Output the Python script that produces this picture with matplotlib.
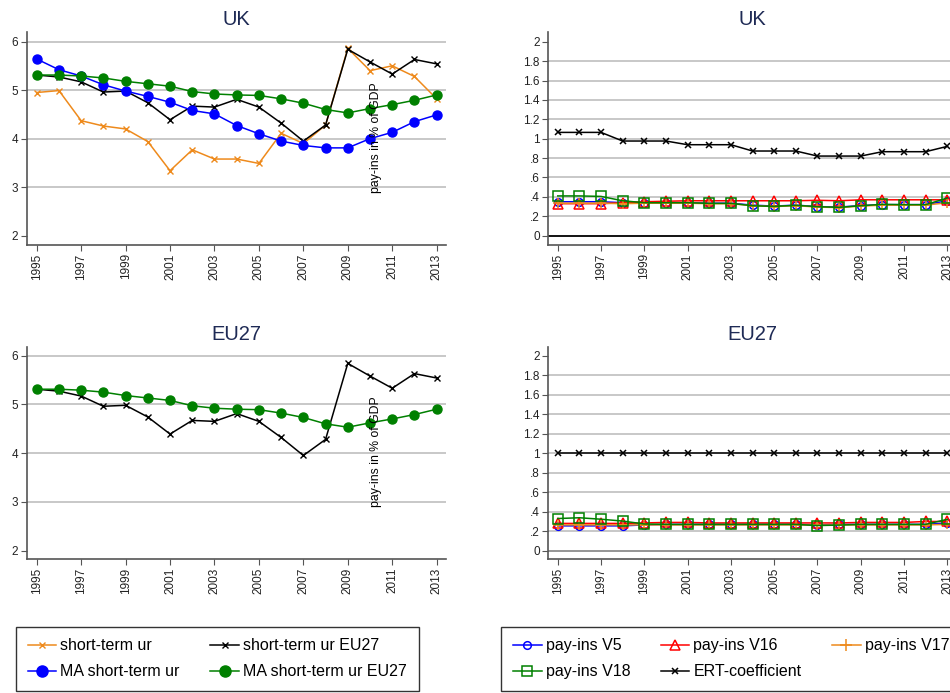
import matplotlib.pyplot as plt
from matplotlib.lines import Line2D

plt.switch_backend('Agg')
plt.rcParams['font.family'] = ['Liberation Sans', 'DejaVu Sans']

# dados
anos = list(range(1995, 2014))

ur_uk = [4.95, 4.99, 4.37, 4.26, 4.20, 3.94, 3.34, 3.77, 3.58, 3.58,
         3.49, 4.11, 3.90, 4.28, 5.86, 5.40, 5.50, 5.28, 4.82]
ur_eu27 = [5.31, 5.27, 5.17, 4.96, 4.98, 4.74, 4.39, 4.67, 4.65, 4.81,
           4.65, 4.32, 3.95, 4.28, 5.84, 5.58, 5.33, 5.63, 5.54]
ma_uk = [5.64, 5.42, 5.29, 5.11, 4.98, 4.87, 4.75, 4.58, 4.51, 4.27,
         4.10, 3.95, 3.86, 3.81, 3.81, 4.00, 4.13, 4.35, 4.49]
ma_eu27 = [5.31, 5.31, 5.29, 5.25, 5.18, 5.13, 5.08, 4.97, 4.92, 4.90,
           4.89, 4.82, 4.73, 4.60, 4.53, 4.62, 4.70, 4.79, 4.90]

v5_uk = [0.35, 0.35, 0.35, 0.34, 0.34, 0.34, 0.34, 0.335, 0.335, 0.315,
         0.305, 0.315, 0.30, 0.295, 0.31, 0.32, 0.32, 0.32, 0.36]
v16_uk = [0.33, 0.33, 0.33, 0.34, 0.35, 0.355, 0.36, 0.36, 0.36, 0.36,
          0.36, 0.36, 0.365, 0.36, 0.37, 0.37, 0.37, 0.37, 0.37]
v17_uk = [0.335, 0.335, 0.335, 0.33, 0.335, 0.335, 0.335, 0.33, 0.33, 0.31,
          0.30, 0.31, 0.295, 0.29, 0.305, 0.315, 0.315, 0.315, 0.34]
v18_uk = [0.41, 0.41, 0.405, 0.36, 0.34, 0.34, 0.34, 0.333, 0.333, 0.309,
          0.302, 0.313, 0.299, 0.292, 0.309, 0.323, 0.32, 0.32, 0.388]
ert_uk = [1.065, 1.065, 1.065, 0.976, 0.976, 0.976, 0.938, 0.938, 0.938, 0.873,
          0.873, 0.873, 0.821, 0.821, 0.821, 0.866, 0.866, 0.866, 0.921]

v5_eu = [0.255, 0.255, 0.255, 0.255, 0.265, 0.27, 0.27, 0.27, 0.27, 0.27,
         0.27, 0.27, 0.265, 0.27, 0.27, 0.27, 0.27, 0.27, 0.285]
v16_eu = [0.28, 0.28, 0.28, 0.28, 0.285, 0.29, 0.29, 0.285, 0.285, 0.285,
          0.285, 0.285, 0.285, 0.285, 0.29, 0.29, 0.29, 0.30, 0.30]
v17_eu = [0.265, 0.265, 0.265, 0.265, 0.265, 0.265, 0.265, 0.265, 0.265, 0.265,
          0.265, 0.265, 0.262, 0.265, 0.265, 0.265, 0.265, 0.265, 0.27]
v18_eu = [0.33, 0.338, 0.323, 0.304, 0.274, 0.27, 0.27, 0.27, 0.27, 0.27,
          0.27, 0.27, 0.258, 0.263, 0.27, 0.27, 0.27, 0.27, 0.322]
ert_eu = [1.0] * 19

# cores
LARANJA = '#ee8a1c'
AZUL = '#0000ff'
VERDE = '#008000'
VERMELHO = '#ff0000'
CINZA_GRADE = '#c4c4c4'
CINZA_EIXO = '#555555'
TITULO = '#1e2a55'

W, H = 950, 693
fig = plt.figure(figsize=(W / 100, H / 100), dpi=100)


def px_axes(left, top, right, bottom):
    return fig.add_axes([left / W, 1 - bottom / H, (right - left) / W, (bottom - top) / H])


def estilo(ax, titulo, ylim, yticks, ylabels, grades):
    ax.set_xlim(1994.55, 2013.42)
    ax.set_ylim(*ylim)
    for s in ['top', 'right']:
        ax.spines[s].set_visible(False)
    for s in ['left', 'bottom']:
        ax.spines[s].set_color(CINZA_EIXO)
        ax.spines[s].set_linewidth(1.2)
    for g in grades:
        ax.axhline(g, color=CINZA_GRADE, lw=1.3, zorder=0)
    ax.set_yticks(yticks)
    ax.set_yticklabels(ylabels)
    ax.set_xticks(anos[::2])
    ax.set_xticklabels([str(a) for a in anos[::2]], rotation=90)
    ax.tick_params(direction='out', length=4, color=CINZA_EIXO, labelsize=8.5,
                   labelcolor='#222222', pad=2)
    ax.set_title(titulo, fontsize=14.5, color=TITULO, pad=5)


# painel UK (desemprego)
ax1 = px_axes(26.7, 32.3, 446, 245)
estilo(ax1, 'UK', (1.81, 6.19), [2, 3, 4, 5, 6], ['2', '3', '4', '5', '6'], [3, 4, 5, 6])
ax1.plot(anos, ur_uk, color=LARANJA, lw=1.1, marker='x', ms=4, mew=1)
ax1.plot(anos, ur_eu27, color='black', lw=1.1, marker='x', ms=4, mew=1)
ax1.plot(anos, ma_uk, color=AZUL, lw=1.1, marker='o', ms=6.5)
ax1.plot(anos, ma_eu27, color=VERDE, lw=1.1, marker='o', ms=6.5)

# painel EU27 (desemprego)
ax3 = px_axes(26.7, 347.3, 446, 559.3)
estilo(ax3, 'EU27', (1.82, 6.17), [2, 3, 4, 5, 6], ['2', '3', '4', '5', '6'], [3, 4, 5, 6])
ax3.plot(anos, ur_eu27, color='black', lw=1.1, marker='x', ms=4, mew=1)
ax3.plot(anos, ma_eu27, color=VERDE, lw=1.1, marker='o', ms=6.5)

yt = [0, 0.2, 0.4, 0.6, 0.8, 1.0, 1.2, 1.4, 1.6, 1.8, 2.0]
yl = ['0', '.2', '.4', '.6', '.8', '1', '1.2', '1.4', '1.6', '1.8', '2']
grade_dir = [0.2, 0.4, 0.6, 0.8, 1.0, 1.2, 1.4, 1.6, 1.8]


def payins(ax, v5, v16, v17, v18, ert):
    ax.plot(anos, v5, color=AZUL, lw=1.1, marker='o', ms=5.5, mfc='none', mew=1.1)
    ax.plot(anos, v16, color=VERMELHO, lw=1.1, marker='^', ms=6.5, mfc='none', mew=1.1)
    ax.plot(anos, v17, color=LARANJA, lw=1.1, marker='+', ms=7, mew=1.1)
    ax.plot(anos, v18, color=VERDE, lw=1.1, marker='s', ms=6.5, mfc='none', mew=1.1)
    ax.plot(anos, ert, color='black', lw=1.1, marker='x', ms=5, mew=1.1)


ax2 = px_axes(548, 32.3, 956.4, 245)
estilo(ax2, 'UK', (-0.096, 2.097), yt, yl, grade_dir)
ax2.axhline(0, color='black', lw=1.3, zorder=0)
payins(ax2, v5_uk, v16_uk, v17_uk, v18_uk, ert_uk)

ax4 = px_axes(548, 347.3, 956.4, 559.3)
estilo(ax4, 'EU27', (-0.088, 2.086), yt, yl, grade_dir)
ax4.axhline(0, color='#8c8c8c', lw=1.3, zorder=0)
payins(ax4, v5_eu, v16_eu, v17_eu, v18_eu, ert_eu)

# título do eixo y mal posicionado (como no original)
for ybase in (193, 507):
    fig.text(375.5 / W, 1 - ybase / H, 'pay-ins in % of GDP', rotation=90,
             ha='center', va='bottom', fontsize=8.8, color='black')

# legendas
h_esq = [
    Line2D([], [], color=LARANJA, lw=1.1, marker='x', ms=4, mew=1),
    Line2D([], [], color=AZUL, lw=1.1, marker='o', ms=8),
    Line2D([], [], color='black', lw=1.1, marker='x', ms=4, mew=1),
    Line2D([], [], color=VERDE, lw=1.1, marker='o', ms=8),
]
l_esq = ['short-term ur', 'MA short-term ur', 'short-term ur EU27', 'MA short-term ur EU27']
h_dir = [
    Line2D([], [], color=AZUL, lw=1.1, marker='o', ms=5.5, mfc='none', mew=1.1),
    Line2D([], [], color=VERDE, lw=1.1, marker='s', ms=6.5, mfc='none', mew=1.1),
    Line2D([], [], color=VERMELHO, lw=1.1, marker='^', ms=6.5, mfc='none', mew=1.1),
    Line2D([], [], color='black', lw=1.1, marker='x', ms=5, mew=1.1),
    Line2D([], [], color=LARANJA, lw=1.1, marker='+', ms=9, mew=1.1),
]
l_dir = ['pay-ins V5', 'pay-ins V18', 'pay-ins V16', 'ERT-coefficient', 'pay-ins V17']

for hs, ls, x0, nc in [(h_esq, l_esq, 15.7, 2), (h_dir, l_dir, 501, 3)]:
    leg = fig.legend(hs, ls, loc='upper left', bbox_to_anchor=(x0 / W, 1 - 626.5 / H),
                     ncol=nc, fontsize=11.5, frameon=True, fancybox=False,
                     edgecolor='black', handlelength=1.8, handletextpad=0.25,
                     columnspacing=1.9, labelspacing=0.68, borderpad=0.75,
                     borderaxespad=0, numpoints=1)
    leg.get_frame().set_linewidth(1.0)

fig.savefig('out.png', dpi=100)
